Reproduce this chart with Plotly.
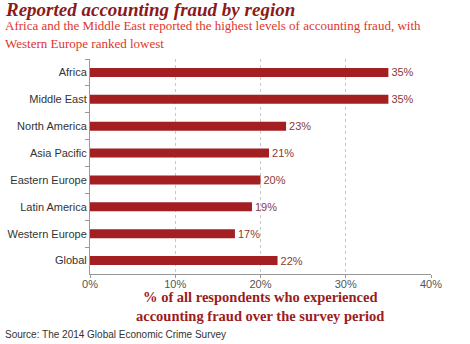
import plotly.graph_objects as go

regions = ["Africa", "Middle East", "North America", "Asia Pacific", "Eastern Europe",
           "Latin America", "Western Europe", "Global"]
values = [35, 35, 23, 21, 20, 19, 17, 22]
x_ticks = [0, 10, 20, 30, 40]
x_tick_labels = ["0%", "10%", "20%", "30%", "40%"]

W, H = 470, 344
L, R, T, B = 90, 39, 59, 70
pw, ph = W - L - R, H - T - B

def px(x):
    return (x - L) / pw

def py(y):
    return (H - B - y) / ph

fig = go.Figure(go.Bar(
    x=values, y=regions, orientation="h",
    marker=dict(color="#A31F22", line=dict(width=0)),
    width=0.335,
    text=[f"{v}%" for v in values], textposition="outside",
    constraintext="none",
    textfont=dict(family="Liberation Sans, Arial", size=11, color="#8B3A3A"),
    cliponaxis=False,
))

fig.update_layout(
    width=W, height=H, margin=dict(l=L, r=R, t=T, b=B),
    paper_bgcolor="white", plot_bgcolor="white", showlegend=False,
    xaxis=dict(range=[0, 40], tickvals=x_ticks, ticktext=x_tick_labels,
               showgrid=True, gridcolor="#c8c8c8", griddash="dot", gridwidth=1,
               showline=True, linecolor="#999", linewidth=1,
               ticks="outside", ticklen=3, tickcolor="#999",
               ticklabelstandoff=-3,
               tickfont=dict(family="Liberation Sans, Arial", size=11, color="#555"),
               zeroline=False, fixedrange=True, automargin=False),
    yaxis=dict(categoryorder="array", categoryarray=regions, autorange="reversed",
               showline=True, linecolor="#999", linewidth=1,
               ticks="outside", ticklen=4, tickcolor="#999", tickson="boundaries",
               tickfont=dict(family="Liberation Sans, Arial", size=11, color="#333"),
               showgrid=False, fixedrange=True, automargin=False),
    bargap=0.6,
)

ann = []
ann.append(dict(text="<b><i>Reported accounting fraud by region</i></b>",
                x=px(3), y=py(10), xanchor="left", yanchor="middle",
                font=dict(family="Liberation Serif, DejaVu Serif", size=19, color="#8B1A1A")))
ann.append(dict(text="Africa and the Middle East reported the highest levels of accounting fraud, with",
                x=px(3), y=py(26), xanchor="left", yanchor="middle",
                font=dict(family="Liberation Serif, DejaVu Serif", size=13, color="#E0352B")))
ann.append(dict(text="Western Europe ranked lowest",
                x=px(3), y=py(43), xanchor="left", yanchor="middle",
                font=dict(family="Liberation Serif, DejaVu Serif", size=13, color="#E0352B")))
ann.append(dict(text="<b>% of all respondents who experienced</b>",
                x=px(260), y=py(297), xanchor="center", yanchor="middle",
                font=dict(family="Liberation Serif, DejaVu Serif", size=14.5, color="#9B1C1C")))
ann.append(dict(text="<b>accounting fraud over the survey period</b>",
                x=px(260), y=py(316), xanchor="center", yanchor="middle",
                font=dict(family="Liberation Serif, DejaVu Serif", size=14.5, color="#9B1C1C")))
ann.append(dict(text="Source: The 2014 Global Economic Crime Survey",
                x=px(3), y=py(334), xanchor="left", yanchor="middle",
                font=dict(family="Liberation Sans, Arial", size=10, color="#333")))
for a in ann:
    a.update(xref="paper", yref="paper", showarrow=False)
fig.update_layout(annotations=ann)

fig.write_html("out.html")
